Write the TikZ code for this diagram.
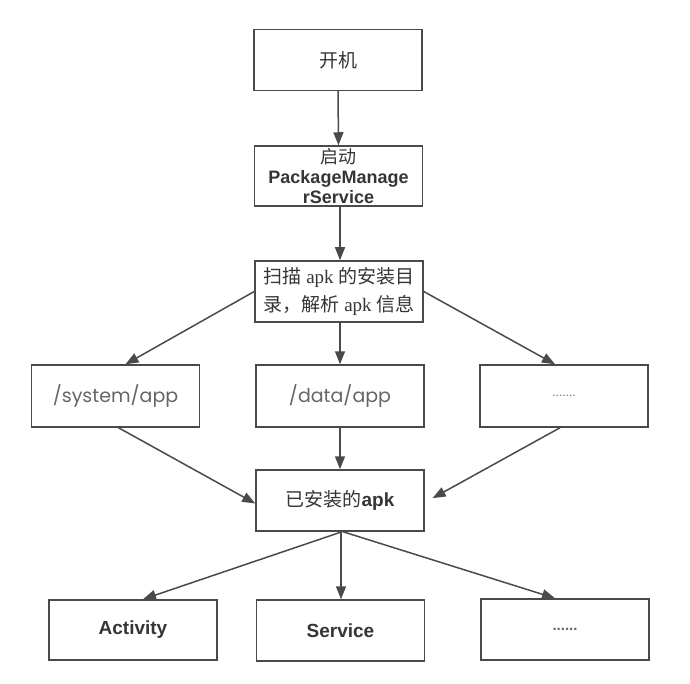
\documentclass[tikz,border=0pt]{standalone}
\usepackage{fontspec}
\setmainfont{Liberation Sans}
\newfontfamily\cjk{Noto Sans CJK SC}
\newfontfamily\geo{Poppins}
\newfontfamily\serifL{Liberation Serif}
\usetikzlibrary{arrows.meta,calc}
\definecolor{linegray}{HTML}{4A4A4A}
\definecolor{textgray}{HTML}{353535}
\definecolor{lightgray}{HTML}{666666}
\tikzset{
  box/.style={draw=linegray, line width=1.5pt, fill=white, minimum width=168pt, minimum height=61pt, inner sep=0pt, align=center, text=textgray},
  conn/.style={draw=linegray, line width=1.5pt, -{Triangle[length=13pt,width=10pt]}},
  bigsans/.style={font=\fontsize{19}{20}\selectfont\bfseries},
  pathtxt/.style={font=\fontsize{19}{22}\selectfont\geo, text=lightgray},
}
\begin{document}
\begin{tikzpicture}[x=1pt,y=-1pt]
\useasboundingbox (0,0) rectangle (690,684);
\fill[white] (0,0) rectangle (690,684);
\node[box, font=\fontsize{19}{20}\selectfont] (n1) at (338,60) {\cjk 开机};
\node[box, minimum height=60pt, font=\fontsize{18}{20}\selectfont\bfseries] (n2) at (338.5,176) {{\cjk\mdseries 启动}\\PackageManage\\rService};
\node[box, font=\fontsize{19}{28}\selectfont] (n3) at (339,291.5) {{\cjk 扫描} {\serifL apk} {\cjk 的安装目}\\{\cjk 录，解析} {\serifL apk} {\cjk 信息}};
\node[box, minimum height=62pt, pathtxt] (a1) at (115.5,396) {/system/app};
\node[box, minimum height=62pt, pathtxt] (a2) at (340,396) {/data/app};
\node[box, minimum height=62pt, font=\fontsize{12}{14}\selectfont, text=lightgray] (a3) at (564,396) {.......};
\node[box, bigsans] (m) at (340,500.5) {{\cjk\mdseries 已安装的}apk};
\node[box, minimum height=60pt, bigsans] (b1) at (133,630) {Activity};
\node[box, bigsans] (b2) at (340.5,630.5) {Service};
\node[box, font=\fontsize{15}{16}\selectfont\bfseries, text=lightgray] (b3) at (565,629.5) {......};
\draw[conn] (n1.south) -- (n2.north);
\draw[conn] ([xshift=1.5pt]n2.south) -- ([xshift=1.5pt]n2.south |- n3.north);
\draw[conn] (n3.west) -- ([xshift=10pt]a1.north);
\draw[conn] ([xshift=1pt]n3.south) -- ([xshift=1pt]n3.south |- a2.north);
\draw[conn] (n3.east) -- ([xshift=-9pt]a3.north);
\draw[conn] ([xshift=3pt]a1.south) -- ([yshift=-3pt]m.west);
\draw[conn] (a2.south) -- (m.north);
\draw[conn, shorten >=9pt] ([xshift=-4pt]a3.south) -- ([yshift=-2pt]m.east);
\draw[conn] ([xshift=2pt]m.south) -- ([xshift=10pt]b1.north);
\draw[conn] ([xshift=1pt]m.south) -- ([xshift=1pt]m.south |- b2.north);
\draw[conn] ([xshift=3pt]m.south) -- ([xshift=-10pt]b3.north);
\end{tikzpicture}
\end{document}
